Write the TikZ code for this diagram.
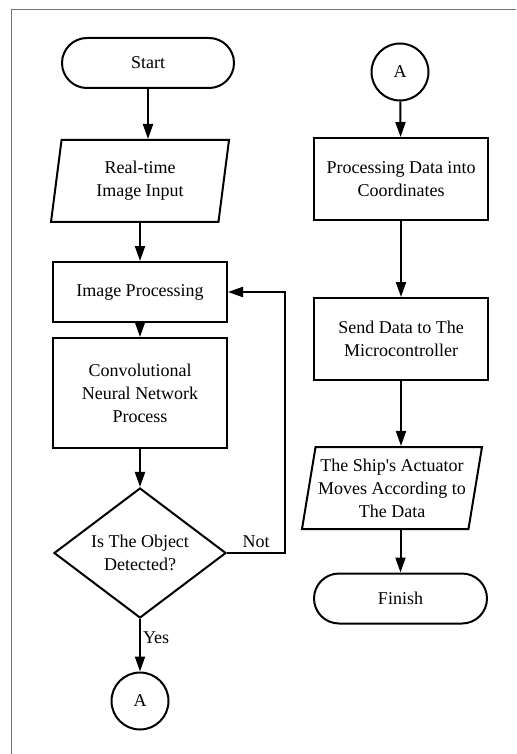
\documentclass[tikz,border=0pt]{standalone}
\usepackage{fontspec}
\setmainfont{Liberation Serif}
\usetikzlibrary{shapes.geometric,arrows.meta}

\begin{document}
\begin{tikzpicture}[x=0.5pt, y=-0.5pt, line width=1pt, font=\fontsize{9}{11.5}\selectfont,
  terminal/.style = {rectangle, rounded corners=12.5pt, draw, minimum width=86pt, minimum height=25pt, inner sep=0pt},
  process/.style = {rectangle, draw, align=center, minimum width=87pt, minimum height=41pt, inner sep=0pt},
  io/.style = {trapezium, trapezium left angle=75, trapezium right angle=105, trapezium stretches body, draw, align=center, minimum width=89pt, minimum height=41pt, inner sep=0pt},
  decision/.style = {diamond, draw, aspect=1.32, align=center, minimum width=86pt, minimum height=65pt, inner sep=0pt},
  connector/.style = {circle, draw, minimum size=28.5pt, inner sep=0pt},
  flow/.style = {-{Triangle[length=7.5pt,width=5pt]}}]
  \useasboundingbox (0,0) rectangle (516,754);
  \draw[black!55, line width=0.7pt] (11.5,754) -- (11.5,9.5) -- (516,9.5);

  % left column
  \node[terminal] (start) at (148,63) {Start};
  \node[io] (input) at (140,181) {Real-time\\Image Input};
  \node[process, minimum height=30pt] (imgproc) at (140,292) {Image Processing};
  \node[process, minimum height=55pt] (cnn) at (140,393) {Convolutional\\Neural Network\\Process};
  \node[decision] (detect) at (140,553) {Is The Object\\Detected?};
  \node[connector] (linkout) at (140,701) {A};

  % right column
  \node[connector] (linkin) at (400,72) {A};
  \node[process] (coords) at (401,179) {Processing Data into\\Coordinates};
  \node[process] (send) at (401,339) {Send Data to The\\Microcontroller};
  \node[io, trapezium left angle=77, trapezium right angle=103, minimum width=90pt] (actuator) at (392,488) {The Ship\textquotesingle s Actuator\\Moves According to\\The Data};
  \node[terminal, minimum width=86.5pt] (finish) at (400.5,598.5) {Finish};

  \draw[flow] (start) -- (start |- input.north);
  \draw[flow] (input) -- (imgproc);
  \draw[flow] (imgproc) -- (cnn);
  \draw[flow] (cnn) -- (detect);
  \draw[flow] (detect) -- node[right, pos=0.35, inner sep=1pt] {Yes} (linkout);
  \draw[flow] (detect.east) -- node[above, inner sep=2pt] {Not} ++(58,0) |- (imgproc.east);

  \draw[flow] (linkin) -- (coords);
  \draw[flow] (coords) -- (send);
  \draw[flow] (send) -- (send |- actuator.north);
  \draw[flow] (finish |- actuator.south) -- (finish);
\end{tikzpicture}
\end{document}
